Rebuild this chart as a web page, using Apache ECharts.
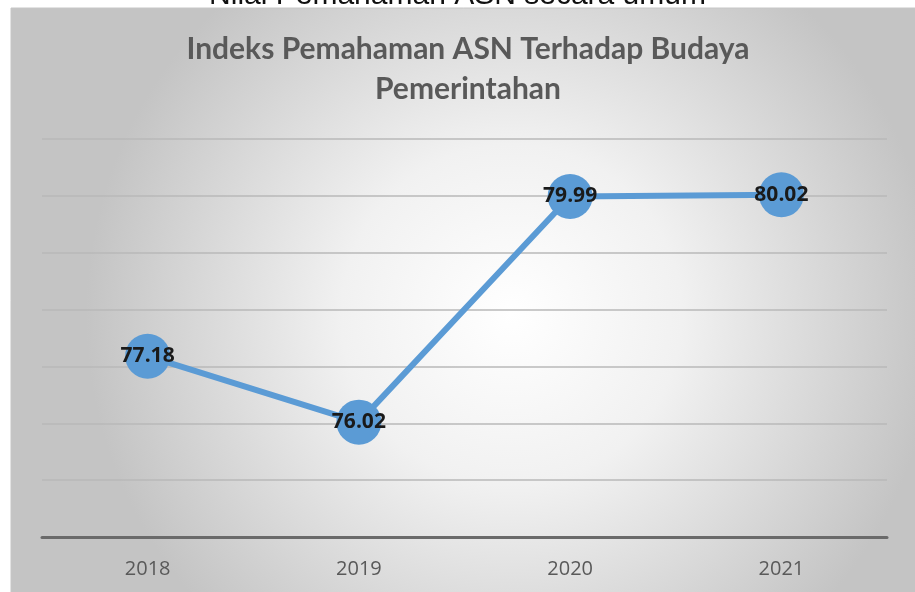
<!DOCTYPE html>
<html>
<head>
<meta charset="utf-8">
<script src="https://cdn.jsdelivr.net/npm/echarts@6/dist/echarts.min.js"></script>
<style>
  html, body { margin: 0; padding: 0; background: #ffffff; }
  #chart { width: 915px; height: 592px; }
</style>
</head>
<body>
<div id="chart"></div>
<script>
// Yearly index of civil servants' understanding of government culture
const years = ['2018', '2019', '2020', '2021'];
const indexValues = [77.18, 76.02, 79.99, 80.02];
const axisMin = 74;
const axisMax = 81;
const axisStep = 1;

const chart = echarts.init(document.getElementById('chart'));

chart.setOption({
  animation: false,
  backgroundColor: '#ffffff',
  graphic: [
    {
      type: 'rect',
      z: -10,
      silent: true,
      shape: { x: 11, y: 8, width: 910, height: 590 },
      style: {
        fill: {
          type: 'radial', x: 0.55, y: 0.52, r: 0.72,
          colorStops: [
            { offset: 0, color: '#ffffff' },
            { offset: 0.4, color: '#f1f1f1' },
            { offset: 1, color: '#c4c4c4' }
          ]
        },
        stroke: '#c6c6c6',
        lineWidth: 1
      }
    },
    {
      type: 'text',
      left: 'center',
      top: -19,
      z: 10,
      style: {
        text: 'Nilai Pemahaman ASN secara umum',
        fill: '#111111',
        font: '30px "Liberation Sans", sans-serif'
      }
    }
  ],
  title: {
    text: 'Indeks Pemahaman ASN Terhadap Budaya\nPemerintahan',
    left: 463,
    textAlign: 'center',
    top: 24,
    textStyle: {
      color: '#595959',
      fontSize: 30,
      fontWeight: 'bold',
      fontFamily: 'Lato, "Open Sans", sans-serif',
      lineHeight: 40
    }
  },
  grid: { left: 42, right: 28, top: 139, bottom: 55, containLabel: false },
  xAxis: {
    type: 'category',
    data: years,
    boundaryGap: true,
    axisLine: { show: true, lineStyle: { color: '#6a6a6a', width: 3 } },
    axisTick: { show: false },
    axisLabel: {
      color: '#595959',
      fontSize: 20,
      margin: 22,
      fontFamily: '"Open Sans", "Noto Sans", sans-serif'
    }
  },
  yAxis: {
    type: 'value',
    min: axisMin,
    max: axisMax,
    interval: axisStep,
    axisLine: { show: false },
    axisTick: { show: false },
    axisLabel: { show: false },
    splitLine: { lineStyle: { color: '#b8b8b8', width: 1.5 } }
  },
  series: [{
    type: 'line',
    data: indexValues,
    symbol: 'circle',
    symbolSize: 45,
    lineStyle: { color: '#5b9bd5', width: 6 },
    itemStyle: { color: '#5b9bd5' },
    label: {
      show: true,
      position: 'inside',
      formatter: p => p.value.toFixed(2),
      color: '#1a1a1a',
      fontSize: 21,
      fontWeight: 'bold',
      fontFamily: '"Open Sans", "Noto Sans", sans-serif'
    },
    z: 3
  }]
});
</script>
</body>
</html>
